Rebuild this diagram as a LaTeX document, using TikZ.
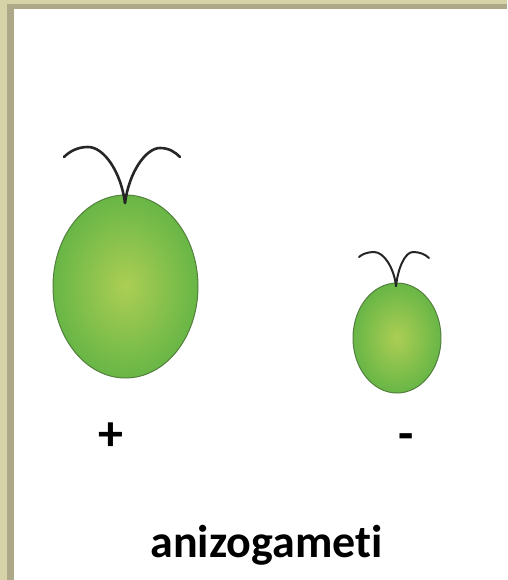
\documentclass[tikz,border=0pt]{standalone}
\usepackage{fontspec}
\setmainfont{Carlito}[Ligatures=NoCommon]
\usetikzlibrary{shapes.geometric}
\definecolor{frameLight}{RGB}{214,211,168}
\definecolor{frameDark}{RGB}{172,168,136}
\definecolor{cellInner}{RGB}{172,206,84}
\definecolor{cellOuter}{RGB}{104,182,70}
\definecolor{cellEdge}{RGB}{84,128,62}
\tikzset{
  cell/.style={ellipse, inner sep=0pt, draw=cellEdge, line width=1pt,
    shading=radial, inner color=cellInner, outer color=cellOuter},
  flagellum/.style={draw=black!85, line width=2.6pt, line cap=round},
  sign/.style={font=\fontsize{50}{60}\selectfont\bfseries, inner sep=0pt, anchor=base},
  caption/.style={font=\fontsize{46}{55}\selectfont\bfseries, inner sep=0pt, anchor=base}
}
\begin{document}
\begin{tikzpicture}[x=1pt,y=-1pt]
  \useasboundingbox (0,0) rectangle (507,580);
  \fill[white] (0,0) rectangle (507,580);
  % tan frame along the top and left edges
  \fill[frameLight] (0,0) rectangle (507,4);
  \fill[frameDark] (7,4) rectangle (507,9);
  \fill[frameLight] (0,0) rectangle (7,580);
  \fill[frameDark] (7,4) rectangle (14,580);

  % large (+) gamete
  \node[cell, minimum width=145pt, minimum height=183pt] (big) at (125.5,286.5) {};
  \coordinate (bigbase) at (125,203);
  \draw[flagellum] (bigbase) .. controls (121,172) and (104,147) .. (88,147)
                             .. controls (78,147) and (70,151) .. (64,157);
  \draw[flagellum] (bigbase) .. controls (129,172) and (146,148) .. (160,148)
                             .. controls (169,148) and (175,152) .. (180,157);

  % small (-) gamete
  \node[cell, minimum width=88pt, minimum height=110pt] (small) at (397,338) {};
  \coordinate (smallbase) at (396,286);
  \draw[flagellum, line width=2pt] (smallbase) .. controls (394,268) and (384,252) .. (374,252)
                             .. controls (368,252) and (362,254) .. (359,257);
  \draw[flagellum, line width=2pt] (smallbase) .. controls (398,268) and (405,252) .. (413,252)
                             .. controls (419,252) and (425,254) .. (429,258);

  % labels
  \node[sign] (plus) at (110.5,450) {+};
  \node[sign] (minus) at (406.5,450) {-};
  \node[caption] (title) at (266.5,557) {anizogameti};
\end{tikzpicture}
\end{document}
